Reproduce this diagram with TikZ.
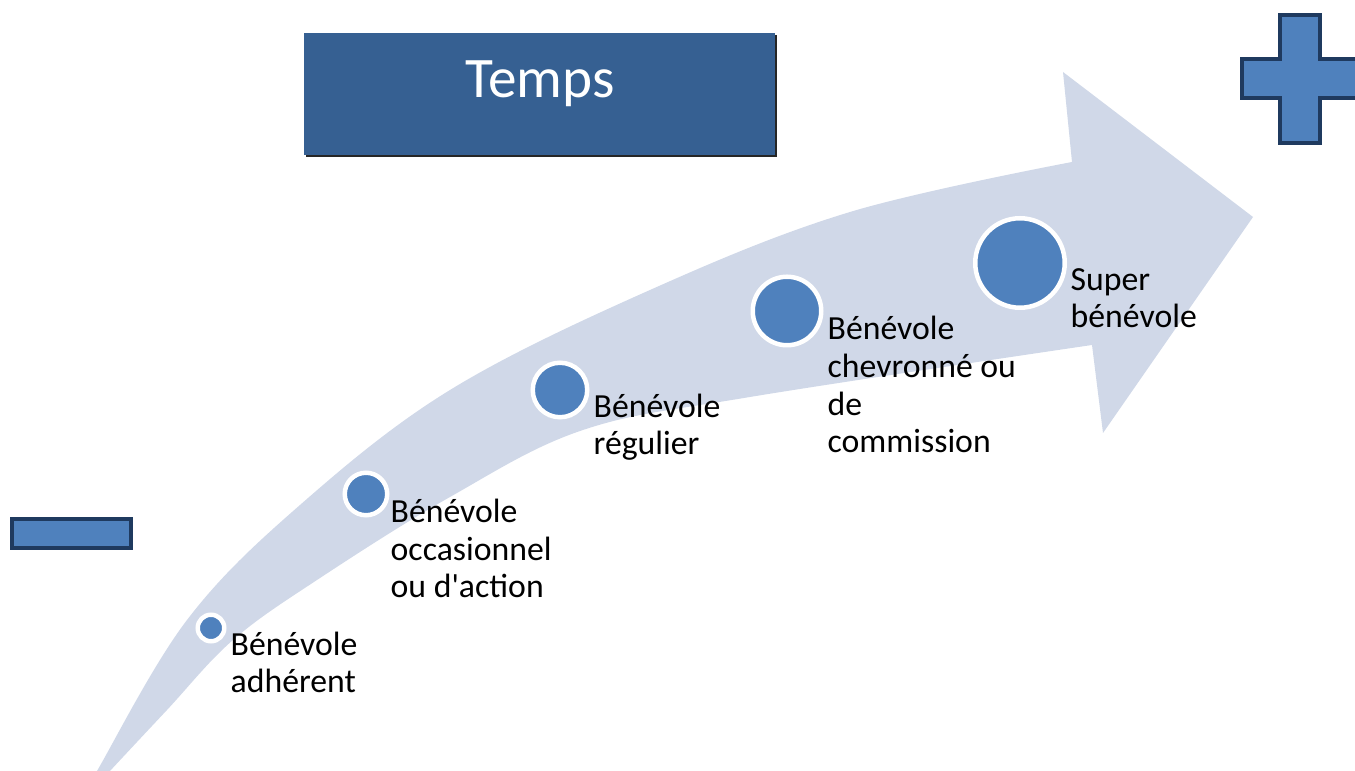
\documentclass[tikz,border=0pt]{standalone}
\usepackage{fontspec}
\setmainfont{Carlito}
\usepackage{xcolor}
\usepackage{tikz}
\usetikzlibrary{positioning,calc}
\definecolor{bandblue}{HTML}{D0D8E8}
\definecolor{dotblue}{HTML}{4F81BD}
\definecolor{titleblue}{HTML}{366092}
\definecolor{signedge}{HTML}{1F3A5F}

\begin{document}
\begin{tikzpicture}[x=0.1mm, y=-0.1mm,
    dot/.style={circle, fill=dotblue, draw=white, line width=0.45mm, inner sep=0pt},
    lbl/.style={anchor=base west, align=left, inner sep=0pt, font=\fontsize{9.6}{10.8}\selectfont},
    sign/.style={fill=dotblue, draw=signedge, line width=0.4mm}]
    \clip (0,0) rectangle (1355,771);

    % Curved arrow
    \fill [bandblue] plot [smooth, tension=0.6] coordinates {(87,790) (97,771) (187,620) (300,505) (450,390) (650,290) (850,212) (1072,162)}
        -- (1063,72) -- (1253,217) -- (1103,433) -- (1092,345)
        -- plot [smooth, tension=0.6] coordinates {(1092,345) (750,397) (583,430) (450,497) (317,580) (233,640) (167,710) (110,771) (93,790)} -- cycle;

    % Title
    \fill [black!85] (306,35) rectangle (777,157);
    \node [fill=titleblue, minimum width=47.1mm, minimum height=12.2mm, inner sep=0pt] (temps) at (539.5,94.5) {};
    \node [anchor=base, text=white, font=\fontsize{16.3}{19}\selectfont] (tempslbl) at (540,98) {Temps};

    % Minus and plus
    \draw [sign] (12,519) rectangle (131,548);
    \draw [sign] (1280,15) -- (1320,15) -- (1320,59) -- (1358,59) -- (1358,98) -- (1320,98) -- (1320,143)
        -- (1280,143) -- (1280,98) -- (1242,98) -- (1242,59) -- (1280,59) -- cycle;

    % Steps
    \node [dot, minimum size=2.65mm] (adh) at (211,628) {};
    \node [dot, minimum size=4.25mm] (occ) at (366,494) {};
    \node [dot, minimum size=5.45mm] (reg) at (560,390) {};
    \node [dot, minimum size=6.85mm] (chev) at (787,311) {};
    \node [dot, minimum size=8.95mm] (sup) at (1020,263) {};

    % labels sit on the baseline of their last line
    \node [lbl] (adhlbl) at (230,693) {Bénévole\\adhérent};
    \node [lbl] (occlbl) at (390,598) {Bénévole\\occasionnel\\ou d\textquotesingle action};
    \node [lbl] (reglbl) at (593,455) {Bénévole\\régulier};
    \node [lbl] (chevlbl) at (827,453) {Bénévole\\chevronné ou\\de\\commission};
    \node [lbl] (suplbl) at (1070,328) {Super\\bénévole};
\end{tikzpicture}
\end{document}
